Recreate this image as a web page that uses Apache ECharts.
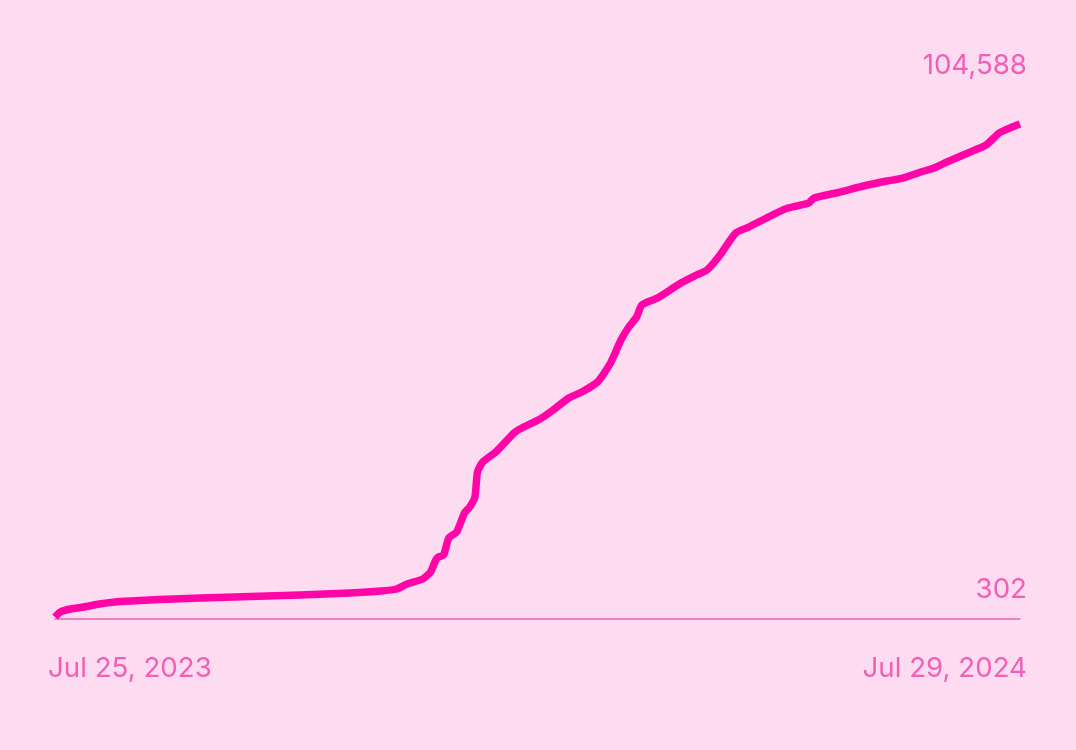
<!DOCTYPE html>
<html>
<head>
<meta charset="utf-8">
<script src="https://cdn.jsdelivr.net/npm/echarts@6/dist/echarts.min.js"></script>
<style>
html,body{margin:0;padding:0;background:#fddcf1;}
#chart{width:1076px;height:750px;}
</style>
</head>
<body>
<div id="chart"></div>
<script>
const dates = [
 '2023-07-25','2023-07-27','2023-07-31','2023-08-05','2023-08-11','2023-08-17','2023-08-23','2023-09-03',
 '2023-09-19','2023-10-08','2023-10-27','2023-11-15','2023-11-27','2023-12-03','2023-12-07','2023-12-13',
 '2023-12-16','2023-12-18','2023-12-19','2023-12-21','2023-12-23','2023-12-26','2023-12-29','2023-12-31',
 '2024-01-02','2024-01-03','2024-01-05','2024-01-10','2024-01-17','2024-01-20','2024-01-27','2024-02-01',
 '2024-02-07','2024-02-12','2024-02-18','2024-02-23','2024-02-27','2024-03-01','2024-03-04','2024-03-06',
 '2024-03-12','2024-03-21','2024-03-27','2024-03-31','2024-04-05','2024-04-11','2024-04-16','2024-04-25',
 '2024-05-01','2024-05-09','2024-05-11','2024-05-21','2024-05-30','2024-06-08','2024-06-14','2024-06-21',
 '2024-06-26','2024-07-01','2024-07-09','2024-07-16','2024-07-21','2024-07-26','2024-07-29'
];
const values = [
 302,1360,1994,2417,3052,3475,3686,4004,
 4321,4638,4955,5379,5802,6225,7282,8340,
 9821,12359,12993,13417,17013,18282,22301,23571,
 25686,30974,33090,35202,39221,40280,42183,44087,
 46626,47895,50010,54029,58894,61644,63759,66297,
 67778,70951,72643,73700,76873,81527,82796,85334,
 86815,87872,88930,90199,91468,92526,93160,94429,
 95275,96545,98448,100140,102678,103947,104588
];
const xLabels = ['Jul 25, 2023','Jul 29, 2024'];
const yLabels = ['104,588','302'];
const xRange = ['2023-07-25','2024-07-29'];
const yRange = [302,104588];

const txtColor = '#f25fb6';
const font = '27.7px Inter, "Open Sans", sans-serif';
const chart = echarts.init(document.getElementById('chart'));
chart.setOption({
  backgroundColor: '#fddcf1',
  animation: false,
  grid: {left: 55, right: 56, top: 124, bottom: 133},
  xAxis: {
    type: 'time', min: xRange[0], max: xRange[1], offset: 2,
    axisLine: {show: true, lineStyle: {color: '#e865b8', width: 1.5}},
    axisTick: {show: false}, axisLabel: {show: false}, splitLine: {show: false}
  },
  yAxis: {
    type: 'value', min: yRange[0], max: yRange[1], show: false, splitLine: {show: false}
  },
  series: [{
    type: 'line',
    data: dates.map((d, i) => [d, values[i]]),
    showSymbol: false,
    smooth: 0.2,
    lineStyle: {color: '#ff05a8', width: 7.5, join: 'round', cap: 'butt'}
  }],
  graphic: [
    {type: 'text', right: 49, top: 52, style: {text: yLabels[0], fill: txtColor, font: font}},
    {type: 'text', right: 49, top: 576, style: {text: yLabels[1], fill: txtColor, font: font}},
    {type: 'text', left: 48, top: 655, style: {text: xLabels[0], fill: txtColor, font: font}},
    {type: 'text', right: 49, top: 655, style: {text: xLabels[1], fill: txtColor, font: font}}
  ]
});
</script>
</body>
</html>
